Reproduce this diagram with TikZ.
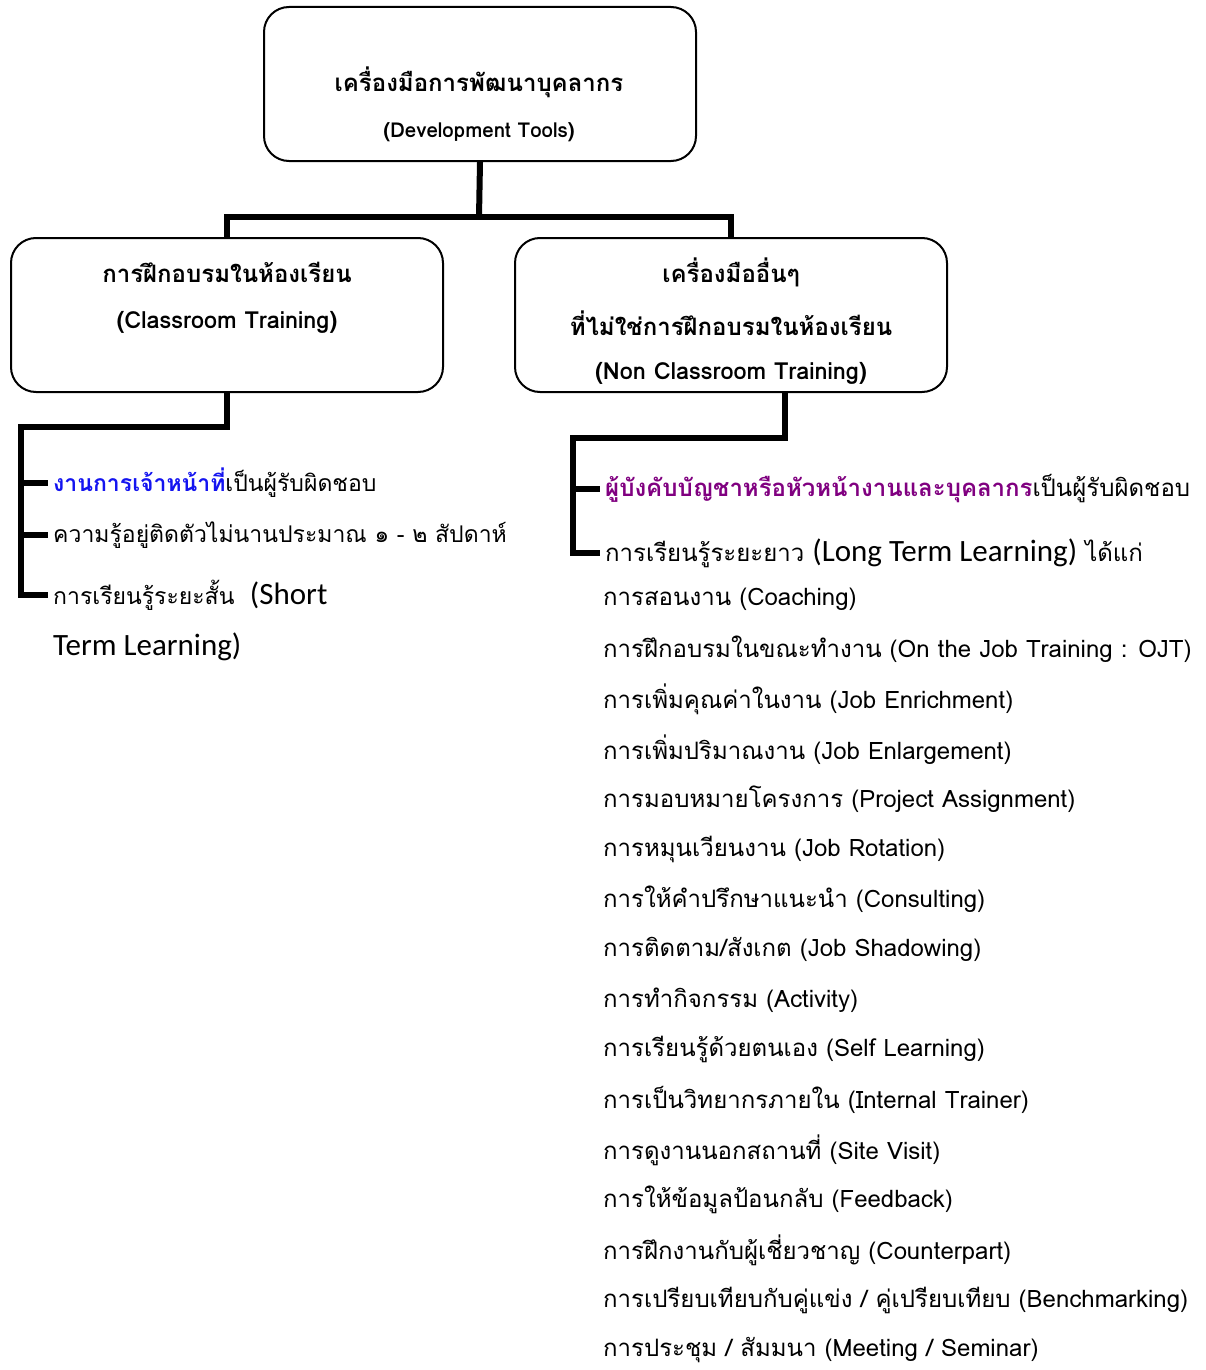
\documentclass[tikz,border=0pt]{standalone}
\usepackage{fontspec}
\setmainfont[Script=Thai]{Loma}
\newfontfamily\thai[Script=Thai]{Loma}
\newfontfamily\lightlat{Carlito}
\newcommand{\lt}[1]{{\lightlat\fontsize{31}{33}\selectfont #1}}
\definecolor{hblue}{RGB}{20,20,240}
\definecolor{hpurple}{RGB}{128,0,128}
\begin{document}
\begin{tikzpicture}[x=1pt,y=-1pt,
  box/.style={draw, line width=2pt, rounded corners=25pt, minimum width=432pt, minimum height=154pt, anchor=north west},
  conn/.style={line width=6pt},
  item/.style={anchor=west, inner sep=5pt, font=\fontsize{24}{26}\selectfont},
  litem/.style={item, font=\fontsize{23}{25}\selectfont},
  head/.style={font=\bfseries\fontsize{24}{26}\selectfont},
  sub/.style={font=\bfseries\fontsize{23.5}{26}\selectfont},
]
\useasboundingbox (0,0) rectangle (1205,1370);
\node[box] (top) at (263,6) {};
\node[box] (lbox) at (10,237) {};
\node[box] (rbox) at (514,237) {};
\node[head] (t1) at (479,82) {เครื่องมือการพัฒนาบุคลากร};
\node[sub, font=\bfseries\fontsize{20.5}{22}\selectfont] (t2) at (479,132) {(Development Tools)};
\node[head] (l1) at (227,272) {การฝึกอบรมในห้องเรียน};
\node[sub] (l2) at (227,322) {(Classroom Training)};
\node[head] (r1) at (731,272) {เครื่องมืออื่นๆ};
\node[head] (r2) at (731,323) {ที่ไม่ใช่การฝึกอบรมในห้องเรียน};
\node[sub] (r3) at (731,373) {(Non Classroom Training)};
% connectors top
\coordinate (hub) at (479,217);
\draw[conn] (top.south) -- (hub);
\draw[conn] (hub) -| (lbox.north);
\draw[conn] (hub) -| (rbox.north);
% left items
\node[litem] (a1) at (48,483) {{\bfseries\color{hblue}งานการเจ้าหน้าที่}เป็นผู้รับผิดชอบ};
\node[litem] (a2) at (48,535) {ความรู้อยู่ติดตัวไม่นานประมาณ ๑ - ๒ สัปดาห์};
\node[litem] (a3) at (48,595) {การเรียนรู้ระยะสั้น~ \lt{(Short}};
\node[litem] (a4) at (48,647) {\lt{Term Learning)}};
\coordinate (lb) at (21,427);
\draw[conn] (lbox.south) |- (lb) |- (a3.west);
\draw[conn] (lb |- a1.west) -- (a1.west);
\draw[conn] (lb |- a2.west) -- (a2.west);
% right items
\node[item] (b1) at (600,489) {{\bfseries\color{hpurple}ผู้บังคับบัญชาหรือหัวหน้างานและบุคลากร}เป็นผู้รับผิดชอบ};
\node[item] (b2) at (600,553) {การเรียนรู้ระยะยาว \lt{(Long Term Learning)} ได้แก่};
\coordinate (rb) at (573,438);
\draw[conn] (rbox.south -| 785,0) |- (rb) |- (b2.west);
\draw[conn] (rb |- b1.west) -- (b1.west);
\foreach \t [count=\i] in {%
การสอนงาน (Coaching),
การฝึกอบรมในขณะทำงาน (On the Job Training : OJT),
การเพิ่มคุณค่าในงาน (Job Enrichment),
การเพิ่มปริมาณงาน (Job Enlargement),
การมอบหมายโครงการ (Project Assignment),
การหมุนเวียนงาน (Job Rotation),
การให้คำปรึกษาแนะนำ (Consulting),
การติดตาม/สังเกต (Job Shadowing),
การทำกิจกรรม (Activity),
การเรียนรู้ด้วยตนเอง (Self Learning),
การเป็นวิทยากรภายใน (Internal Trainer),
การดูงานนอกสถานที่ (Site Visit),
การให้ข้อมูลป้อนกลับ (Feedback),
การฝึกงานกับผู้เชี่ยวชาญ (Counterpart),
การเปรียบเทียบกับคู่แข่ง / คู่เปรียบเทียบ (Benchmarking),
การประชุม / สัมมนา (Meeting / Seminar)}
  \node[item] (c\i) at (598,{599+50.1*(\i-1)}) {\t};
\end{tikzpicture}
\end{document}
